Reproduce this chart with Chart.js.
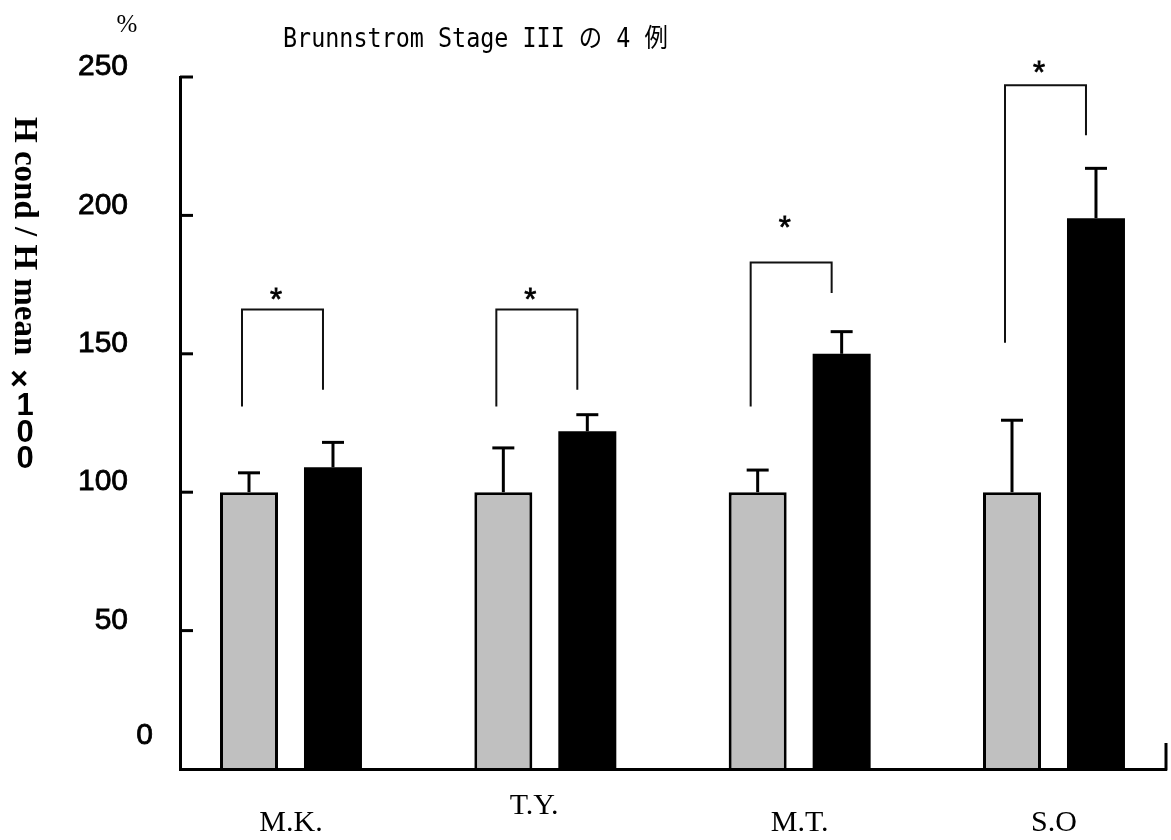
<!DOCTYPE html>
<html>
<head>
<meta charset="utf-8">
<title>Brunnstrom Stage III の 4 例</title>
<script src="https://cdn.jsdelivr.net/npm/chart.js@4/dist/chart.umd.min.js"></script>
<style>
  html, body { margin: 0; padding: 0; background: #ffffff; }
  #c { display: block; }
</style>
</head>
<body>
<canvas id="c" width="1171" height="840"></canvas>
<script>
// Subjects and H-reflex amplitude ratios (H cond / H mean x 100, %)
const subjects = ['M.K.', 'T.Y.', 'M.T.', 'S.O'];
const meanRatio = [100, 100, 100, 100];
const condRatio = [109, 122, 150, 199];
const meanSD = [7, 16, 8, 26];
const condSD = [9, 6, 8, 18];
const yTicks = [0, 50, 100, 150, 200, 250];

// Significance brackets, in axis units
const bracketTop = [166, 166, 183, 247];
const bracketLeftEnd = [131, 131, 131, 154];
const bracketRightEnd = [137, 137, 172, 229];
const starLevel = [172, 172, 198, 254];
const starMark = ['*', '*', '*', '*'];

const titleText = 'Brunnstrom Stage III の 4 例';
const axisTitleRotated = 'H cond / H mean';
const axisTitleUpright = ['×', '1', '0', '0'];
const unitText = '%';

function line(ctx, x1, y1, x2, y2) {
  ctx.beginPath();
  ctx.moveTo(x1, y1);
  ctx.lineTo(x2, y2);
  ctx.stroke();
}

// Inward tick marks, error bars, significance brackets and the free texts
const decorations = {
  id: 'decorations',
  afterDatasetsDraw(chart) {
    const ctx = chart.ctx;
    const xs = chart.scales.x;
    const ys = chart.scales.y;
    const area = chart.chartArea;
    ctx.save();
    ctx.strokeStyle = '#000';
    ctx.lineCap = 'butt';

    // inward y ticks
    ctx.lineWidth = 3;
    yTicks.forEach(v => {
      if (v === 0) return;
      const py = ys.getPixelForValue(v);
      line(ctx, area.left, py, area.left + 13, py);
    });
    // end tick on the x axis
    line(ctx, area.right, area.bottom + 1.5, area.right, area.bottom - 26);

    // error bars (upper side only)
    const sets = [[meanRatio, meanSD], [condRatio, condSD]];
    sets.forEach(([vals, sds], d) => {
      const meta = chart.getDatasetMeta(d);
      meta.data.forEach((bar, i) => {
        const yBase = ys.getPixelForValue(vals[i]);
        const yTop = ys.getPixelForValue(vals[i] + sds[i]);
        ctx.lineWidth = 3;
        line(ctx, bar.x, yBase, bar.x, yTop);
        line(ctx, bar.x - 11, yTop, bar.x + 11, yTop);
      });
    });

    // brackets
    const g = chart.getDatasetMeta(0).data;
    const b = chart.getDatasetMeta(1).data;
    ctx.lineWidth = 2;
    ctx.strokeStyle = '#111';
    subjects.forEach((s, i) => {
      const xl = g[i].x - 7;
      const xr = b[i].x - 10;
      ctx.beginPath();
      ctx.moveTo(xl, ys.getPixelForValue(bracketLeftEnd[i]));
      ctx.lineTo(xl, ys.getPixelForValue(bracketTop[i]));
      ctx.lineTo(xr, ys.getPixelForValue(bracketTop[i]));
      ctx.lineTo(xr, ys.getPixelForValue(bracketRightEnd[i]));
      ctx.stroke();
    });

    // stars
    ctx.fillStyle = '#000';
    ctx.strokeStyle = '#000';
    ctx.lineWidth = 0.8;
    ctx.font = '31px "Liberation Sans", Arial, sans-serif';
    ctx.textAlign = 'center';
    ctx.textBaseline = 'alphabetic';
    subjects.forEach((s, i) => {
      const px = xs.getPixelForValue(i) - 15;
      const py = ys.getPixelForValue(starLevel[i]);
      ctx.fillText(starMark[i], px, py + 17);
      ctx.strokeText(starMark[i], px, py + 17);
    });
    ctx.restore();
  },
  afterDraw(chart) {
    const ctx = chart.ctx;
    ctx.save();
    ctx.fillStyle = '#000';

    // chart title, narrow monospace
    ctx.save();
    ctx.translate(283, 47);
    ctx.scale(0.9, 1);
    ctx.font = '26px "DejaVu Sans Mono", "Noto Sans CJK JP", monospace';
    ctx.textAlign = 'left';
    ctx.textBaseline = 'alphabetic';
    ctx.fillText(titleText, 0, 0);
    ctx.restore();

    // unit
    ctx.font = '25px "Liberation Serif", "Times New Roman", serif';
    ctx.textAlign = 'center';
    ctx.textBaseline = 'middle';
    ctx.fillText(unitText, 127, 25);

    // vertical axis title, written top to bottom
    ctx.save();
    ctx.translate(15, 117);
    ctx.rotate(Math.PI / 2);
    ctx.font = 'bold 33px "Liberation Serif", "Times New Roman", serif';
    ctx.textAlign = 'left';
    ctx.textBaseline = 'alphabetic';
    ctx.fillText(axisTitleRotated, 0, 0);
    ctx.restore();

    ctx.font = 'bold 31px "Liberation Sans", Arial, sans-serif';
    ctx.textAlign = 'center';
    ctx.textBaseline = 'middle';
    axisTitleUpright.forEach((ch, k) => {
      ctx.fillText(ch, k === 0 ? 19 : 25, 380 + k * 26.5);
    });
    ctx.restore();
  }
};

const chart = new Chart(document.getElementById('c'), {
  type: 'bar',
  data: {
    datasets: [
      {
        label: 'H mean',
        data: subjects.map((s, i) => ({ x: i, y: meanRatio[i] })),
        backgroundColor: '#c0c0c0',
        borderColor: '#000000',
        borderWidth: 3,
        borderSkipped: 'start',
        categoryPercentage: 0.6604,
        barPercentage: 0.6905
      },
      {
        label: 'H cond',
        data: subjects.map((s, i) => ({ x: i, y: condRatio[i] })),
        backgroundColor: '#000000',
        borderWidth: 0,
        categoryPercentage: 0.6604,
        barPercentage: 0.6905
      }
    ]
  },
  options: {
    responsive: false,
    animation: false,
    events: [],
    layout: { padding: { left: 78, right: 5, top: 77, bottom: 0 } },
    plugins: {
      legend: { display: false },
      tooltip: { enabled: false },
      title: { display: false }
    },
    scales: {
      x: {
        type: 'linear',
        min: -0.4364,
        max: 3.4404,
        offset: false,
        afterBuildTicks: s => { s.ticks = subjects.map((n, i) => ({ value: i })); },
        afterFit: s => { s.height = 71; s.paddingLeft = 0; s.paddingRight = 0; },
        grid: { display: false, drawTicks: false },
        border: { display: true, color: '#000', width: 3, z: 1 },
        ticks: {
          autoSkip: false,
          maxRotation: 0,
          padding: 28.5,
          color: '#000',
          font: { family: '"Liberation Serif", "Times New Roman", serif', size: 30, lineHeight: 17 / 30 },
          callback: v => {
            const name = subjects[v];
            if (name === undefined) return '';
            return name === 'T.Y.' ? name + '   ' : ['', name];
          }
        }
      },
      y: {
        min: 0,
        max: 250,
        afterBuildTicks: s => { s.ticks = yTicks.map(v => ({ value: v })); },
        afterFit: s => { s.width = 102; s.paddingTop = 0; s.paddingBottom = 0; },
        grid: { display: false, drawTicks: false },
        border: { display: true, color: '#000', width: 3, z: 1 },
        ticks: {
          crossAlign: 'far',
          padding: 0,
          labelOffset: -10,
          color: '#000',
          textStrokeColor: '#000',
          textStrokeWidth: 0.8,
          font: { family: '"Liberation Sans", Arial, sans-serif', size: 30, lineHeight: 46 / 30 },
          callback: v => {
            if (v === 0) return ['       0', ''];
            if (v === 50) return '  50';
            return String(v);
          }
        }
      }
    }
  },
  plugins: [decorations]
});
</script>
</body>
</html>
